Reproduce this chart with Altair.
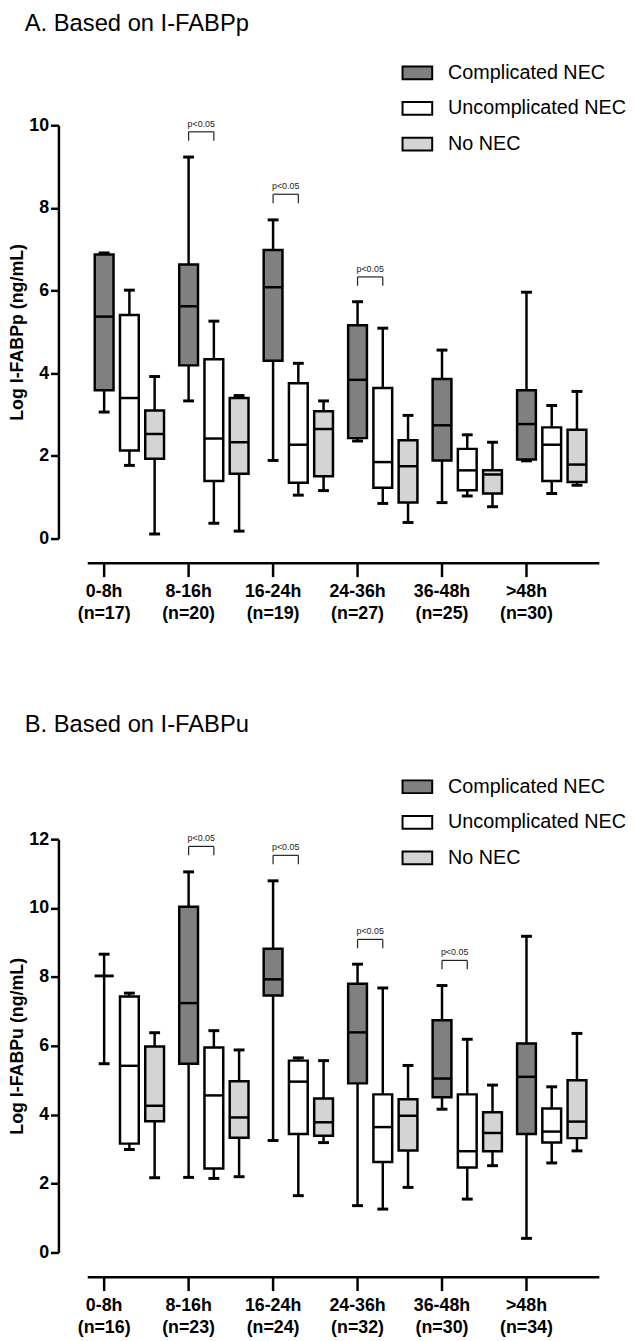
import altair as alt
import pandas as pd

FONT = "Liberation Sans, Arial, Helvetica, sans-serif"

groups = ["0-8h", "8-16h", "16-24h", "24-36h", "36-48h", ">48h"]
series = ["Complicated NEC", "Uncomplicated NEC", "No NEC"]
fills = ["#808080", "#ffffff", "#d4d4d4"]

# ---------- Panel A: I-FABPp ----------
n_a = [17, 20, 19, 27, 25, 30]
a_comp_min = [3.06, 3.33, 1.89, 2.36, 0.87, 1.88]
a_comp_q1 = [3.59, 4.19, 4.30, 2.43, 1.89, 1.91]
a_comp_med = [5.37, 5.62, 6.08, 3.84, 2.74, 2.77]
a_comp_q3 = [6.87, 6.63, 6.98, 5.16, 3.86, 3.59]
a_comp_max = [6.91, 9.23, 7.71, 5.73, 4.56, 5.96]

a_unc_min = [1.77, 0.37, 1.05, 0.85, 1.03, 1.09]
a_unc_q1 = [2.13, 1.39, 1.35, 1.23, 1.17, 1.39]
a_unc_med = [3.40, 2.42, 2.27, 1.85, 1.65, 2.27]
a_unc_q3 = [5.41, 4.34, 3.76, 3.64, 2.17, 2.69]
a_unc_max = [6.01, 5.26, 4.24, 5.09, 2.51, 3.22]

a_no_min = [0.11, 0.18, 1.16, 0.39, 0.77, 1.29]
a_no_q1 = [1.93, 1.57, 1.51, 0.87, 1.09, 1.37]
a_no_med = [2.53, 2.33, 2.65, 1.75, 1.55, 1.79]
a_no_q3 = [3.10, 3.40, 3.08, 2.38, 1.65, 2.63]
a_no_max = [3.92, 3.46, 3.33, 2.98, 2.33, 3.56]

a_sig_groups = [1, 2, 3]
a_sig_tops = [9.84, 8.33, 6.33]

# ---------- Panel B: I-FABPu ----------
n_b = [16, 23, 24, 32, 30, 34]
b_comp_min = [5.48, 2.18, 3.25, 1.36, 4.16, 0.41]
b_comp_q1 = [8.03, 5.48, 7.46, 4.91, 4.51, 3.44]
b_comp_med = [8.03, 7.24, 7.93, 6.39, 5.05, 5.10]
b_comp_q3 = [8.03, 10.04, 8.82, 7.80, 6.74, 6.07]
b_comp_max = [8.66, 11.05, 10.79, 8.37, 7.75, 9.18]

b_unc_min = [2.99, 2.15, 1.65, 1.26, 1.55, 2.60]
b_unc_q1 = [3.16, 2.44, 3.44, 2.63, 2.47, 3.19]
b_unc_med = [5.42, 4.56, 4.96, 3.64, 2.94, 3.51]
b_unc_q3 = [7.43, 5.95, 5.57, 4.59, 4.59, 4.18]
b_unc_max = [7.53, 6.44, 5.65, 7.68, 6.19, 4.81]

b_no_min = [2.17, 2.20, 3.19, 1.89, 2.52, 2.95]
b_no_q1 = [3.81, 3.33, 3.39, 2.96, 2.94, 3.32]
b_no_med = [4.26, 3.92, 3.78, 3.97, 3.47, 3.80]
b_no_q3 = [5.98, 4.97, 4.47, 4.45, 4.07, 5.00]
b_no_max = [6.38, 5.88, 5.57, 5.43, 4.86, 6.36]

b_sig_groups = [1, 2, 3, 4]
b_sig_tops = [11.79, 11.53, 9.09, 8.48]

# ---------- layout constants ----------
GROUP_STEP = 3.346      # slots between groups
X_MIN, X_MAX = -1.615, 19.615
W, H = 552, 418
AXIS_LINE_START = -0.65


def panel(stats, ns, sig_groups, sig_tops, title, ytitle, ymax, title_offset):
    rows = []
    for s_idx, s in enumerate(series):
        lo, q1, med, q3, hi = stats[s_idx]
        for g in range(len(groups)):
            rows.append(dict(series=s, x=g * GROUP_STEP + s_idx,
                             lo=lo[g], q1=q1[g], med=med[g], q3=q3[g], hi=hi[g]))
    df = pd.DataFrame(rows)

    xs = alt.Scale(domain=[X_MIN, X_MAX], nice=False, zero=False)
    ys = alt.Scale(domain=[0, ymax], nice=False, zero=False)
    yaxis = alt.Axis(values=list(range(0, ymax + 1, 2)), format="d", grid=False,
                     domainColor="black", domainWidth=2.5, tickColor="black",
                     tickWidth=2.5, tickSize=8, labelFont=FONT, labelFontSize=18,
                     labelFontWeight="bold", labelColor="black", labelPadding=2,
                     labelFlush=False, labelOverlap=False,
                     titleFont=FONT, titleFontSize=18, titleFontWeight="bold",
                     titleColor="black", titlePadding=2)

    def X(f="x"):
        return alt.X(f"{f}:Q", scale=xs, axis=None)

    def Y(f):
        return alt.Y(f"{f}:Q", scale=ys, axis=yaxis, title=ytitle)

    base = alt.Chart(df)
    whisk = base.mark_rule(color="black", strokeWidth=2.5, opacity=1).encode(
        x=X(), y=Y("lo"), y2="hi:Q")
    cap_hi = base.mark_tick(orient="horizontal", color="black", size=11,
                            thickness=3, opacity=1).encode(x=X(), y=Y("hi"))
    cap_lo = base.mark_tick(orient="horizontal", color="black", size=11,
                            thickness=3, opacity=1).encode(x=X(), y=Y("lo"))
    box = base.mark_bar(size=19, stroke="black", strokeWidth=2.5, opacity=1).encode(
        x=X(), y=Y("q1"), y2="q3:Q",
        fill=alt.Fill("series:N", sort=series,
                      scale=alt.Scale(domain=series, range=fills),
                      legend=alt.Legend(title=None, orient="none", legendX=347,
                                        legendY=-69, direction="vertical",
                                        symbolType="M-1,-0.43H1V0.43H-1Z",
                                        symbolSize=900, symbolStrokeColor="black",
                                        symbolStrokeWidth=2, symbolOpacity=1,
                                        labelFont=FONT, labelFontSize=20,
                                        labelColor="black", labelOffset=15,
                                        labelLimit=300, rowPadding=9, padding=0)))
    med = base.mark_tick(orient="horizontal", color="black", size=19,
                         thickness=2.5, opacity=1).encode(x=X(), y=Y("med"))

    # significance brackets
    sig = pd.DataFrame(dict(
        xa=[g * GROUP_STEP for g in sig_groups],
        xb=[g * GROUP_STEP + 1 for g in sig_groups],
        xm=[g * GROUP_STEP + 0.5 for g in sig_groups],
        top=sig_tops,
        label=["p<0.05"] * len(sig_groups)))
    sbase = alt.Chart(sig)
    s_line = sbase.mark_rule(color="#222", strokeWidth=1.2).encode(
        x=X("xa"), x2="xb:Q", y=Y("top"))
    s_tip_a = sbase.mark_tick(orient="vertical", color="#222", size=9, thickness=1.2,
                              yOffset=4.5, opacity=1).encode(x=X("xa"), y=Y("top"))
    s_tip_b = sbase.mark_tick(orient="vertical", color="#222", size=9, thickness=1.2,
                              yOffset=4.5, opacity=1).encode(x=X("xb"), y=Y("top"))
    s_text = sbase.mark_text(font=FONT, fontSize=9, color="#222", dy=-8).encode(
        x=X("xm"), y=Y("top"), text="label:N")

    # custom category axis below the plot
    ax = pd.DataFrame(dict(
        x=[g * GROUP_STEP for g in range(len(groups))],
        label=[f"{groups[g]}\n(n={ns[g]})" for g in range(len(groups))]))
    axl = pd.DataFrame(dict(x=[AXIS_LINE_START], x2=[X_MAX]))
    ax_line = alt.Chart(axl).mark_rule(color="black", strokeWidth=2.5).encode(
        x=X(), x2="x2:Q", y=alt.value(H + 25))
    ax_ticks = alt.Chart(ax).mark_tick(orient="vertical", color="black", size=14,
                                       thickness=2.5, opacity=1).encode(
        x=X(), y=alt.value(H + 32))
    ax_text = alt.Chart(ax).mark_text(font=FONT, fontSize=18, fontWeight="bold",
                                      color="black", baseline="top", lineBreak="\n",
                                      lineHeight=22).encode(
        x=X(), y=alt.value(H + 45), text="label:N")

    return alt.layer(whisk, cap_hi, cap_lo, box, med, s_line, s_tip_a, s_tip_b,
                     s_text, ax_line, ax_ticks, ax_text).properties(
        width=W, height=H,
        title=alt.TitleParams(title, anchor="start", font=FONT, fontSize=24,
                              fontWeight="normal", color="black", dx=16,
                              offset=title_offset))


chart_a = panel([(a_comp_min, a_comp_q1, a_comp_med, a_comp_q3, a_comp_max),
                 (a_unc_min, a_unc_q1, a_unc_med, a_unc_q3, a_unc_max),
                 (a_no_min, a_no_q1, a_no_med, a_no_q3, a_no_max)],
                n_a, a_sig_groups, a_sig_tops,
                "A. Based on I-FABPp", "Log I-FABPp (ng/mL)", 10, 21)
chart_b = panel([(b_comp_min, b_comp_q1, b_comp_med, b_comp_q3, b_comp_max),
                 (b_unc_min, b_unc_q1, b_unc_med, b_unc_q3, b_unc_max),
                 (b_no_min, b_no_q1, b_no_med, b_no_q3, b_no_max)],
                n_b, b_sig_groups, b_sig_tops,
                "B. Based on I-FABPu", "Log I-FABPu (ng/mL)", 12, 34)

chart = alt.vconcat(chart_a, chart_b, spacing=92).resolve_scale(
    x="independent", y="independent", fill="shared").resolve_legend(
    fill="independent").properties(
    padding={"left": 0, "top": -3, "right": 0, "bottom": 0}).configure_view(stroke=None)

chart.save("out.html", embed_options={"renderer": "svg", "actions": False})
